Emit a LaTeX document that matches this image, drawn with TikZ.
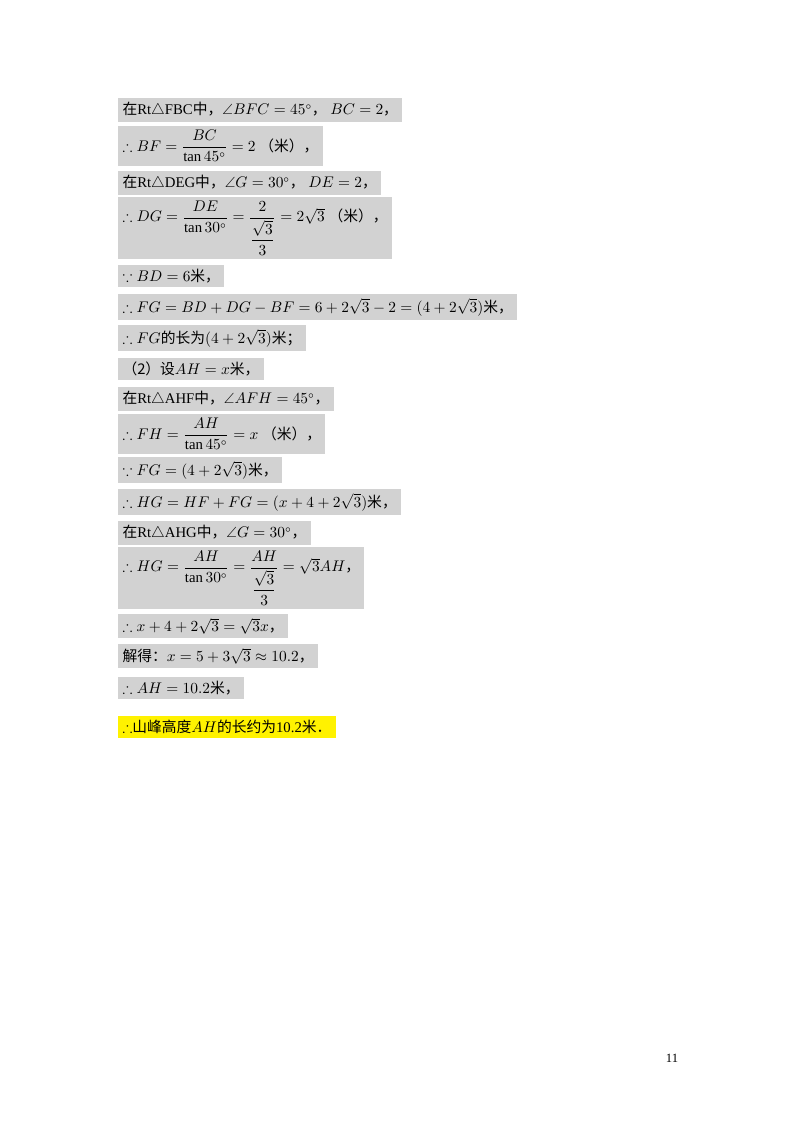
\documentclass[tikz,border=0pt]{standalone}
\usepackage{amsmath,amssymb}
\usepackage{fontspec}
\setmainfont{Liberation Serif}
\newfontfamily\cjk{Noto Sans CJK SC}
\newcommand{\zh}[1]{{\cjk #1}}

\begin{document}
\begin{tikzpicture}[x=0.025cm,y=-0.025cm,
    solveline/.style={fill=gray!35, inner xsep=3pt, inner ysep=3pt, anchor=west, font=\fontsize{10.5}{12}\selectfont},
    tall/.style={solveline, minimum height=38*0.025cm},
    taller/.style={solveline, minimum height=59*0.025cm},
    answer/.style={solveline, fill=yellow}]
    \useasboundingbox (0,0) rectangle (800,1132);

    \node[solveline] (l1) at (118,110) {\zh{在}Rt$\triangle$FBC\zh{中，}$\angle BFC=45^\circ$\zh{，} $BC=2$\zh{，}};
    \node[tall] (l2) at (118,146) {$\therefore BF=\dfrac{BC}{\tan45^\circ}=2$ \zh{（米），}};
    \node[solveline] (l3) at (118,183) {\zh{在}Rt$\triangle$DEG\zh{中，}$\angle G=30^\circ$\zh{，} $DE=2$\zh{，}};
    \node[taller] (l4) at (118,228) {$\therefore DG=\dfrac{DE}{\tan30^\circ}=\dfrac{2}{\dfrac{\sqrt3}{3}}=2\sqrt3$ \zh{（米），}};
    \node[solveline] (l5) at (118,276) {$\because BD=6$\zh{米，}};
    \node[solveline] (l6) at (118,307) {$\therefore FG=BD+DG-BF=6+2\sqrt3-2=(4+2\sqrt3)$\zh{米，}};
    \node[solveline] (l7) at (118,338) {$\therefore FG$\zh{的长为}$(4+2\sqrt3)$\zh{米；}};
    \node[solveline] (l8) at (118,369) {\zh{（2）设}$AH=x$\zh{米，}};
    \node[solveline] (l9) at (118,399) {\zh{在}Rt$\triangle$AHF\zh{中，}$\angle AFH=45^\circ$\zh{，}};
    \node[tall] (l10) at (118,434) {$\therefore FH=\dfrac{AH}{\tan45^\circ}=x$ \zh{（米），}};
    \node[solveline] (l11) at (118,470) {$\because FG=(4+2\sqrt3)$\zh{米，}};
    \node[solveline] (l12) at (118,502) {$\therefore HG=HF+FG=(x+4+2\sqrt3)$\zh{米，}};
    \node[solveline] (l13) at (118,533) {\zh{在}Rt$\triangle$AHG\zh{中，}$\angle G=30^\circ$\zh{，}};
    \node[taller] (l14) at (118,578) {$\therefore HG=\dfrac{AH}{\tan30^\circ}=\dfrac{AH}{\dfrac{\sqrt3}{3}}=\sqrt3AH$\zh{，}};
    \node[solveline] (l15) at (118,626) {$\therefore x+4+2\sqrt3=\sqrt3x$\zh{，}};
    \node[solveline] (l16) at (118,656) {\zh{解得：}$x=5+3\sqrt3\approx10.2$\zh{，}};
    \node[solveline] (l17) at (118,688) {$\therefore AH=10.2$\zh{米，}};
    \node[answer] (l18) at (118,727) {$\therefore$\zh{山峰高度}$AH$\zh{的长约为}10.2\zh{米．}};

    \node[font=\small] (pg) at (672,1058) {11};
\end{tikzpicture}
\end{document}
